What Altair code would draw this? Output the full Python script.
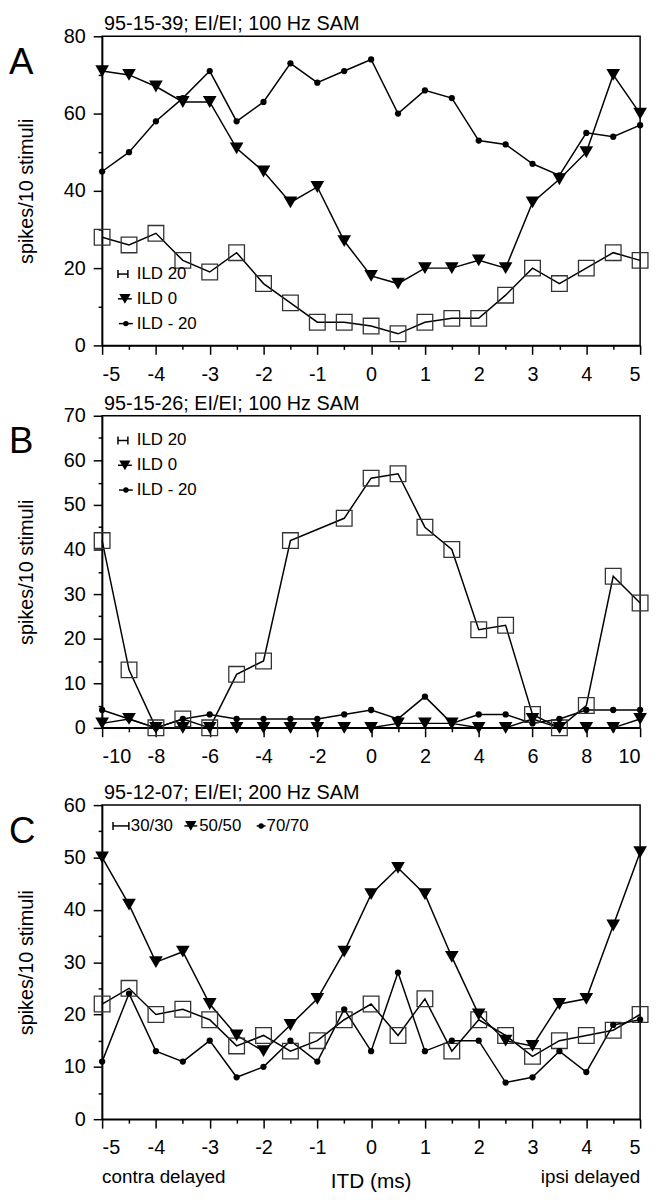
import altair as alt
import pandas as pd

FONT = "Liberation Sans"

# ---------------- data ----------------
# Panel A: 95-15-39; EI/EI; 100 Hz SAM
itd_a = [-5, -4.5, -4, -3.5, -3, -2.5, -2, -1.5, -1, -0.5, 0, 0.5, 1, 1.5, 2, 2.5, 3, 3.5, 4, 4.5, 5]
a_ild20 = [28, 26, 29, 22, 19, 24, 16, 11, 6, 6, 5, 3, 6, 7, 7, 13, 20, 16, 20, 24, 22]
a_ild0 = [71, 70, 67, 63, 63, 51, 45, 37, 41, 27, 18, 16, 20, 20, 22, 20, 37, 43, 50, 70, 60]
a_ildm20 = [45, 50, 58, 64, 71, 58, 63, 73, 68, 71, 74, 60, 66, 64, 53, 52, 47, 44, 55, 54, 57]

# Panel B: 95-15-26; EI/EI; 100 Hz SAM
itd_b = [-10, -9, -8, -7, -6, -5, -4, -3, -2, -1, 0, 1, 2, 3, 4, 5, 6, 7, 8, 9, 10]
itd_b_ild20 = [-10, -9, -8, -7, -6, -5, -4, -3, -1, 0, 1, 2, 3, 4, 5, 6, 7, 8, 9, 10]
b_ild20 = [42, 13, 0, 2, 0, 12, 15, 42, 47, 56, 57, 45, 40, 22, 23, 3, 0, 5, 34, 28]
b_ild0 = [1, 2, 0, 0, 0, 0, 0, 0, 0, 0, 0, 1, 1, 1, 0, 0, 2, 0, 0, 0, 2]
b_ildm20 = [4, 2, 0, 2, 3, 2, 2, 2, 2, 3, 4, 2, 7, 1, 3, 3, 1, 2, 4, 4, 4]

# Panel C: 95-12-07; EI/EI; 200 Hz SAM
itd_c = [-5, -4.5, -4, -3.5, -3, -2.5, -2, -1.5, -1, -0.5, 0, 0.5, 1, 1.5, 2, 2.5, 3, 3.5, 4, 4.5, 5]
c_3030 = [22, 25, 20, 21, 19, 14, 16, 13, 15, 19, 22, 16, 23, 13, 19, 16, 12, 15, 16, 17, 20]
c_5050 = [50, 41, 30, 32, 22, 16, 13, 18, 23, 32, 43, 48, 43, 31, 20, 15, 14, 22, 23, 37, 51]
c_7070 = [11, 24, 13, 11, 15, 8, 10, 15, 11, 21, 13, 28, 13, 15, 15, 7, 8, 13, 9, 18, 19]

# axis ticks
x_ticks_ac = [-5, -4.5, -4, -3.5, -3, -2.5, -2, -1.5, -1, -0.5, 0, 0.5, 1, 1.5, 2, 2.5, 3, 3.5, 4, 4.5, 5]
x_ticks_b = [-10, -9, -8, -7, -6, -5, -4, -3, -2, -1, 0, 1, 2, 3, 4, 5, 6, 7, 8, 9, 10]
y_ticks_a = [0, 10, 20, 30, 40, 50, 60, 70, 80]
y_ticks_b = [0, 5, 10, 15, 20, 25, 30, 35, 40, 45, 50, 55, 60, 65, 70]
y_ticks_c = [0, 5, 10, 15, 20, 25, 30, 35, 40, 45, 50, 55, 60]

W = 543
ONE = pd.DataFrame({"k": [0]})


def make_df(items):
    rows = []
    for name, kind, xs, ys in items:
        for x, y in zip(xs, ys):
            rows.append({"itd": x, "spikes": y, "series": name, "kind": kind})
    return pd.DataFrame(rows)


def txt(s, x, y, size=17, align="left", baseline="middle"):
    return alt.Chart(ONE).mark_text(
        align=align, baseline=baseline, font=FONT, fontSize=size, color="black"
    ).encode(x=alt.value(x), y=alt.value(y), text=alt.value(s))


def hrule(x0, x1, y):
    return alt.Chart(ONE).mark_rule(color="black", strokeWidth=1.5).encode(
        x=alt.value(x0), x2=alt.value(x1), y=alt.value(y))


def vrule(x, y0, y1):
    return alt.Chart(ONE).mark_rule(color="black", strokeWidth=1.5).encode(
        x=alt.value(x), y=alt.value(y0), y2=alt.value(y1))


def sym(kind, x0, x1, y):
    layers = [hrule(x0, x1, y)]
    if kind == "sq":
        layers += [vrule(x0, y - 4, y + 4), vrule(x1, y - 4, y + 4)]
    elif kind == "tri":
        layers.append(alt.Chart(ONE).mark_point(
            shape="triangle-down", filled=True, color="black", size=130, opacity=1
        ).encode(x=alt.value((x0 + x1) / 2), y=alt.value(y)))
    else:
        layers.append(alt.Chart(ONE).mark_circle(color="black", size=30, opacity=1).encode(
            x=alt.value((x0 + x1) / 2), y=alt.value(y)))
    return layers


def panel(items, xdom, xticks, xmod, ydom, yticks, ymod, h, title, letter, legend, bottom=False):
    df = make_df(items)
    xaxis = alt.Axis(
        values=xticks, title=None, labelPadding=10,
        labelExpr=f"datum.value % {xmod} === 0 ? '' + datum.value : ''",
        tickSize={"condition": {"test": f"datum.value % {xmod} !== 0", "value": 4}, "value": 9},
    )
    yaxis = alt.Axis(
        values=yticks, title="spikes/10 stimuli", labelPadding=8, titlePadding=27,
        labelExpr=f"datum.value % {ymod} === 0 ? '' + datum.value : ''",
        tickSize={"condition": {"test": f"datum.value % {ymod} !== 0", "value": 4}, "value": 9},
    )
    base = alt.Chart(df).encode(
        x=alt.X("itd:Q", scale=alt.Scale(domain=xdom, nice=False, zero=False), axis=xaxis),
        y=alt.Y("spikes:Q", scale=alt.Scale(domain=ydom, nice=False), axis=yaxis),
    )
    lines = base.mark_line(color="black", strokeWidth=1.5).encode(detail="series:N")
    sq = base.transform_filter("datum.kind === 'sq'").mark_point(
        shape="square", size=250, filled=False, stroke="#333", strokeWidth=1.3, opacity=1)
    tri = base.transform_filter("datum.kind === 'tri'").mark_point(
        shape="triangle-down", size=190, filled=True, color="black", opacity=1)
    dot = base.transform_filter("datum.kind === 'dot'").mark_circle(
        size=40, color="black", opacity=1)
    layers = [lines, sq, tri, dot]
    layers.append(txt(title, 2, -12, size=20))
    layers.append(txt(letter, -94, 38, size=37, baseline="alphabetic"))
    for kind, x0, x1, tx, y, label in legend:
        layers += sym(kind, x0, x1, y)
        layers.append(txt(label, tx, y, size=17))
    if bottom:
        layers.append(txt("contra delayed", 0, h + 58, size=19))
        layers.append(txt("ipsi delayed", W, h + 58, size=19, align="right"))
        layers.append(txt("ITD (ms)", W / 2, h + 63, size=21, align="center"))
    return alt.layer(*layers).properties(width=W, height=h)


legend_ab_a = [
    ("sq", 16, 26, 35, 240, "ILD 20"),
    ("tri", 16, 30, 35, 265, "ILD 0"),
    ("dot", 17, 31, 35, 290, "ILD - 20"),
]
legend_ab_b = [
    ("sq", 16, 26, 35, 25, "ILD 20"),
    ("tri", 16, 30, 35, 50, "ILD 0"),
    ("dot", 17, 31, 35, 75, "ILD - 20"),
]
legend_c = [
    ("sq", 11, 27, 29, 21, "30/30"),
    ("tri", 83, 96, 98, 21, "50/50"),
    ("dot", 156, 165, 166, 21, "70/70"),
]

pA = panel(
    [("ILD 20", "sq", itd_a, a_ild20), ("ILD 0", "tri", itd_a, a_ild0), ("ILD -20", "dot", itd_a, a_ildm20)],
    [-5, 5], x_ticks_ac, 1, [0, 80], y_ticks_a, 20, 312,
    "95-15-39; EI/EI; 100 Hz SAM", "A", legend_ab_a)
pB = panel(
    [("ILD 20", "sq", itd_b_ild20, b_ild20), ("ILD 0", "tri", itd_b, b_ild0), ("ILD -20", "dot", itd_b, b_ildm20)],
    [-10, 10], x_ticks_b, 2, [0, 70], y_ticks_b, 10, 315,
    "95-15-26; EI/EI; 100 Hz SAM", "B", legend_ab_b)
pC = panel(
    [("30/30", "sq", itd_c, c_3030), ("50/50", "tri", itd_c, c_5050), ("70/70", "dot", itd_c, c_7070)],
    [-5, 5], x_ticks_ac, 1, [0, 60], y_ticks_c, 10, 317,
    "95-12-07; EI/EI; 200 Hz SAM", "C", legend_c, bottom=True)

chart = alt.vconcat(alt.vconcat(pA, pB, spacing=8), pC, spacing=15).properties(
    padding={"left": 0, "top": 0, "right": 0, "bottom": 0}
).configure_view(
    stroke="black", strokeWidth=1.5
).configure_axis(
    grid=False, domainColor="black", domainWidth=1.5, tickColor="black", tickWidth=1.5,
    labelFont=FONT, labelFontSize=20, labelColor="black",
    titleFont=FONT, titleFontSize=20, titleFontWeight="normal", titleColor="black",
)

chart.save("out.html", embed_options={"renderer": "svg", "actions": False})
